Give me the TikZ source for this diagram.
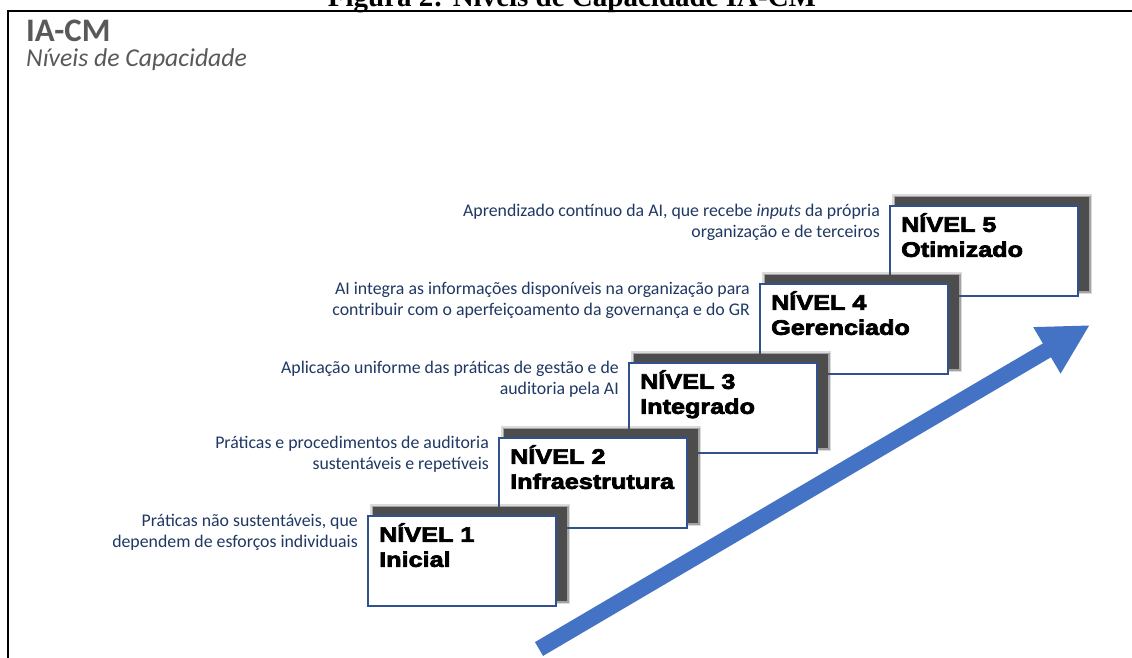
\documentclass[tikz,border=0pt]{standalone}
\usepackage{fontspec}
\setmainfont{Carlito}
\newfontfamily\lvlfont{Liberation Sans}[FakeStretch=1.2,FakeBold=3.5]
\newfontfamily\capfont{Liberation Serif}
\usetikzlibrary{arrows.meta}
\definecolor{boxblue}{RGB}{47,82,143}
\definecolor{descblue}{RGB}{31,56,100}
\definecolor{arrowblue}{RGB}{68,114,196}
\definecolor{titlegray}{RGB}{89,89,89}
\definecolor{shadowgray}{RGB}{77,77,77}
\tikzset{
  lvlbox/.style={draw=boxblue, line width=1.6pt, fill=white, minimum width=188pt,
    minimum height=90pt, inner sep=0pt, outer sep=0pt, anchor=north west},
  lvltext/.style={anchor=north west, inner sep=0pt, align=left,
    font=\lvlfont\bfseries\fontsize{21}{25}\selectfont},
  desc/.style={anchor=east, inner sep=0pt, align=right, text=descblue,
    font=\fontsize{17.8}{21}\selectfont},
}
\newcommand\mylevel[6]{%
  \fill[shadowgray, opacity=.2] (#2+2,#3-12) rectangle (#2+202,#3+88);
  \fill[shadowgray, opacity=.4] (#2+3.5,#3-10.5) rectangle (#2+200.5,#3+86.5);
  \fill[shadowgray] (#2+5,#3-9) rectangle (#2+199,#3+85);
  \node[lvlbox] (b#1) at (#2,#3) {};
  \node[lvltext] (t#1) at ([xshift=11pt,yshift=-7pt]b#1.north west) {#4\\#5};
  \node[desc] (d#1) at ([xshift=-10pt,yshift=-16pt]b#1.north west) {#6};
}
\begin{document}
\begin{tikzpicture}[x=1pt,y=-1pt]
\clip (0,0) rectangle (1132,657);
\useasboundingbox (0,0) rectangle (1132,657);
\fill[white] (0,0) rectangle (1132,657);
% caption (cut at the top)
\node[anchor=base, inner sep=0pt, font=\capfont\bfseries\fontsize{29}{32}\selectfont] (cap) at (572,6) {Figura 2: Níveis de Capacidade IA-CM};
% frame
\draw[line width=2pt] (8,670) -- (8,11) -- (1140,11);
% titles
\node[anchor=base west, inner sep=0pt, text=titlegray, font=\bfseries\fontsize{32.8}{38}\selectfont] (title) at (26,41) {IA-CM};
\node[anchor=base west, inner sep=0pt, text=titlegray, font=\itshape\fontsize{25.7}{30}\selectfont] (subtitle) at (26,66) {Níveis de Capacidade};
% levels
\mylevel{5}{890}{206}{NÍVEL 5}{Otimizado}{Aprendizado contínuo da AI, que recebe \textit{inputs} da própria\\organização e de terceiros}
\mylevel{4}{760}{284}{NÍVEL 4}{Gerenciado}{AI integra as informações disponíveis na organização para\\contribuir com o aperfeiçoamento da governança e do GR}
\mylevel{3}{629}{363}{NÍVEL 3}{Integrado}{Aplicação uniforme das práticas de gestão e de\\auditoria pela AI}
\mylevel{2}{499}{438}{NÍVEL 2}{Infraestrutura}{Práticas e procedimentos de auditoria\\sustentáveis e repetíveis}
\mylevel{1}{368}{516}{NÍVEL 1}{Inicial}{Práticas não sustentáveis, que\\dependem de esforços individuais}
% arrow
\coordinate (atail) at (539,649);
\coordinate (ahead) at (1090,325);
\draw[arrowblue, line width=16pt, -{Triangle[length=50pt, width=50pt]}] (atail) -- (ahead);
\end{tikzpicture}
\end{document}
